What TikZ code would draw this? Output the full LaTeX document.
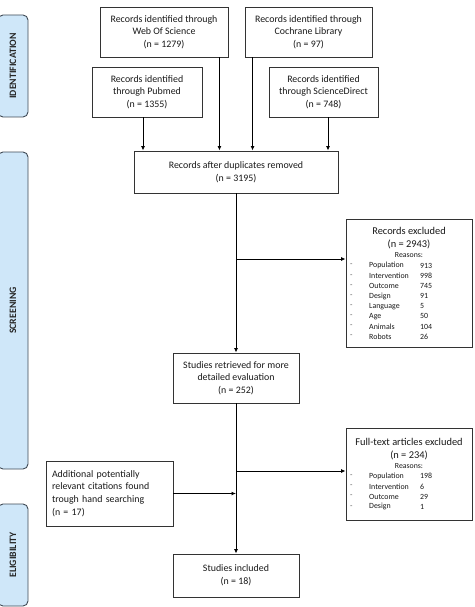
\documentclass[tikz,border=0pt]{standalone}
\usepackage{fontspec}
\setmainfont{Carlito}
\usetikzlibrary{arrows.meta,calc}
\definecolor{sidefill}{HTML}{CFE7F9}
\definecolor{sidedraw}{HTML}{3F4A55}
\definecolor{boxdraw}{HTML}{333333}
\tikzset{
  box/.style={draw=boxdraw,line width=0.9pt,fill=white,align=center,inner sep=2pt,
    font=\fontsize{9.9}{12.6}\selectfont,text=black!90},
  side/.style={draw=sidedraw,line width=0.9pt,fill=sidefill,rounded corners=5pt,rotate=90,
    font=\fontsize{9.8}{11}\selectfont\bfseries,text=black!85},
  arr/.style={line width=0.9pt,-{Latex[length=4.5pt,width=4pt]}},
  hdr/.style={font=\fontsize{10.4}{12.6}\selectfont,inner sep=0pt,text=black!90},
  rsn/.style={font=\fontsize{7.8}{9}\selectfont,inner sep=0pt,text=black!90},
  lst/.style={font=\fontsize{7.9}{9}\selectfont,inner sep=0pt,anchor=west,text=black!90},
}
\begin{document}
\begin{tikzpicture}[x=1pt,y=-1pt]
\useasboundingbox (0,0) rectangle (474,607);
% side labels
\node[side,minimum width=102pt,minimum height=30pt] (sid) at (13,66) {IDENTIFICATION};
\node[side,minimum width=317pt,minimum height=30pt] (ssc) at (13,310.5) {SCREENING};
\node[side,minimum width=102pt,minimum height=30pt] (sel) at (13,555) {ELIGIBILITY};
% identification boxes
\node[box,minimum width=128pt,minimum height=50pt] (wos) at (164,32) {Records identified through\\Web Of Science\\(n = 1279)};
\node[box,minimum width=127pt,minimum height=50pt] (coc) at (308.5,32) {Records identified through\\Cochrane Library\\(n = 97)};
\node[box,minimum width=110pt,minimum height=50pt] (pub) at (147,92) {Records identified\\through Pubmed\\(n = 1355)};
\node[box,minimum width=109pt,minimum height=50pt] (sd) at (323.5,92) {Records identified\\through ScienceDirect\\(n = 748)};
% main flow
\node[box,minimum width=204pt,minimum height=42pt] (dup) at (236,172) {Records after duplicates removed\\(n = 3195)};
\node[box,minimum width=126pt,minimum height=50pt] (ret) at (236,378) {Studies retrieved for more\\detailed evaluation\\(n = 252)};
\node[box,minimum width=126pt,minimum height=43pt] (inc) at (236,575.5) {Studies included\\(n = 18)};
\node[box,minimum width=127pt,minimum height=65pt,align=left,text width=115pt] (add) at (109.5,493.5) {Additional potentially\\relevant citations found\\trough hand searching\\(n = 17)};
% exclusion boxes
\node[box,minimum width=126pt,minimum height=128pt] (ex1) at (409,283) {};
\node[hdr] (ex1h) at (409,231) {Records excluded};
\node[hdr] (ex1n) at (409,244) {(n = 2943)};
\node[rsn] (ex1r) at (409,255) {Reasons:};
\foreach \nm/\vl [count=\i] in {Population/913,Intervention/998,Outcome/745,Design/91,Language/5,Age/50,Animals/104,Robots/26}{
  \node[lst,text=black!65] (ad\i) at (350,255.5+10.15*\i) {-};
  \node[lst] (an\i) at (369,255.5+10.15*\i) {\nm};
  \node[lst] (av\i) at (420,255.5+10.15*\i) {\vl};
}
\node[box,minimum width=126pt,minimum height=92pt] (ex2) at (409,474) {};
\node[hdr] (ex2h) at (409,442) {Full-text articles excluded};
\node[hdr] (ex2n) at (409,455) {(n = 234)};
\node[rsn] (ex2r) at (409,466) {Reasons:};
\foreach \nm/\vl [count=\i] in {Population/198,Intervention/6,Outcome/29,Design/1}{
  \node[lst,text=black!65] (bd\i) at (350,466+10.2*\i) {-};
  \node[lst] (bn\i) at (369,466+10.2*\i) {\nm};
  \node[lst] (bv\i) at (420,466+10.2*\i) {\vl};
}
% connectors
\draw[arr] ([xshift=-4pt]pub.south) -- ([xshift=-4pt]pub.south |- dup.north);
\draw[arr] ([xshift=-9pt]wos.south east) -- ([xshift=-9pt]wos.south east |- dup.north);
\draw[arr] ([xshift=8pt]coc.south west) -- ([xshift=8pt]coc.south west |- dup.north);
\draw[arr] ([xshift=4.5pt]sd.south) -- ([xshift=4.5pt]sd.south |- dup.north);
\draw[arr] (dup.south) -- (ret.north);
\coordinate (b1) at (236,259);
\draw[arr] (b1) -- (b1 -| ex1.west);
\draw[arr] (ret.south) -- (inc.north);
\coordinate (b2) at (236,471);
\draw[arr] (b2) -- (b2 -| ex2.west);
\draw[arr] (add.east) -- (add.east -| ret.south);
\end{tikzpicture}
\end{document}
